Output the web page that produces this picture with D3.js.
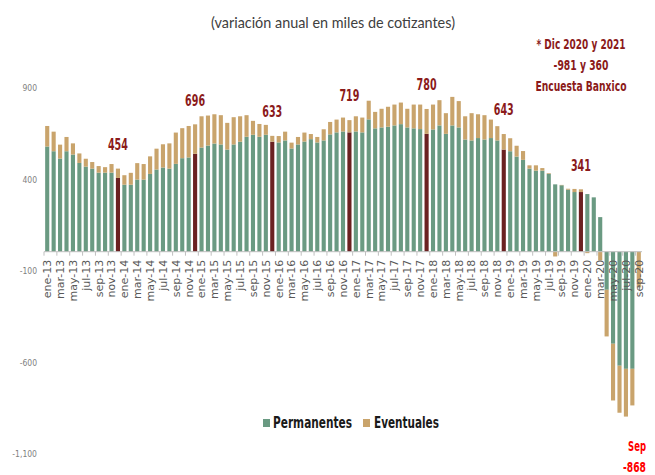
<!DOCTYPE html>
<html lang="es">
	<head>
		<meta charset="utf-8">
		<title>D3: Cotizantes permanentes y eventuales</title>
		<script type="text/javascript" src="https://d3js.org/d3.v7.min.js"></script>
		<style type="text/css">
			body {
				margin: 0;
				background: #fff;
			}
			.title {
				font-family: Lato, "Open Sans", sans-serif;
				font-size: 14.4px;
				fill: #404040;
			}
			.narrow {
				font-family: "Liberation Sans Narrow", "Arial Narrow", "DejaVu Sans Condensed", sans-serif;
				font-stretch: condensed;
				font-weight: bold;
			}
			.y-axis text {
				font-family: "Liberation Sans Narrow", "Arial Narrow", "DejaVu Sans Condensed", sans-serif;
				font-size: 8.5px;
				fill: #7f7f7f;
			}
			.x-axis text {
				font-family: "DejaVu Sans", sans-serif;
				font-size: 11px;
				fill: #595959;
			}
			.axis-line {
				stroke: #bfbfbf;
				stroke-width: 1;
			}
		</style>
	</head>
	<body>
		<div id="chart"></div>
		<script type="text/javascript">
			//Data
			const months = [
				"ene-13","feb-13","mar-13","abr-13","may-13","jun-13","jul-13","ago-13","sep-13","oct-13","nov-13","dic-13",
				"ene-14","feb-14","mar-14","abr-14","may-14","jun-14","jul-14","ago-14","sep-14","oct-14","nov-14","dic-14",
				"ene-15","feb-15","mar-15","abr-15","may-15","jun-15","jul-15","ago-15","sep-15","oct-15","nov-15","dic-15",
				"ene-16","feb-16","mar-16","abr-16","may-16","jun-16","jul-16","ago-16","sep-16","oct-16","nov-16","dic-16",
				"ene-17","feb-17","mar-17","abr-17","may-17","jun-17","jul-17","ago-17","sep-17","oct-17","nov-17","dic-17",
				"ene-18","feb-18","mar-18","abr-18","may-18","jun-18","jul-18","ago-18","sep-18","oct-18","nov-18","dic-18",
				"ene-19","feb-19","mar-19","abr-19","may-19","jun-19","jul-19","ago-19","sep-19","oct-19","nov-19","dic-19",
				"ene-20","feb-20","mar-20","abr-20","may-20","jun-20","jul-20","ago-20","sep-20"
			];
			const permanentes = [
				575, 549, 509, 549, 531, 485, 465, 454, 432, 432, 432, 403,
				366, 366, 394, 394, 425, 449, 460, 454, 480, 511, 515, 535,
				569, 580, 591, 586, 558, 586, 601, 628, 639, 628, 639, 601,
				597, 608, 564, 586, 602, 615, 597, 608, 641, 652, 657, 652,
				657, 652, 723, 674, 679, 683, 690, 697, 679, 674, 670, 644,
				668, 690, 644, 690, 679, 613, 608, 621, 613, 621, 608, 558,
				549, 520, 502, 454, 443, 443, 425, 368, 363, 339, 326, 326,
				315, 297, 189, -208, -503, -623, -640, -640, 0
			];
			const eventuales = [
				112, 107, 76, 78, 61, 52, 43, 36, 36, 30, 47, 51,
				52, 65, 90, 85, 96, 114, 127, 138, 171, 164, 172, 161,
				171, 164, 160, 160, 146, 149, 139, 118, 76, 70, 54, 32,
				35, 48, 32, 41, 49, 28, 30, 61, 68, 70, 76, 67,
				83, 81, 102, 90, 102, 109, 114, 118, 102, 130, 134, 136,
				136, 138, 113, 156, 144, 127, 149, 130, 133, 101, 78, 85,
				71, 59, 48, 18, 29, 14, 4, -26, 2, 5, 17, 15,
				-8, 0, -48, -255, -310, -257, -261, -200, -195
			];
			const highlightMonths = ["dic-13","dic-14","dic-15","dic-16","dic-17","dic-18","dic-19"];
			const highlightLabels = ["454","696","633","719","780","643","341"];
			const yTicks = [900, 400, -100, -600, -1100];
			const seriesNames = ["Permanentes", "Eventuales"];
			const noteLines = ["* Dic 2020 y 2021", "-981 y 360", "Encuesta Banxico"];
			const sepLines = ["Sep", "-868"];

			const colors = { perm: "#6a9a82", even: "#c9a46c", dec: "#6b2121" };

			//Widths of the condensed texts (the original font is narrower than any installed one)
			const noteWidths = [89, 55, 91];
			const sepWidths = [18, 23];
			const legendWidths = [79, 65];

			//Squeeze a text horizontally to a given width
			function condense(sel, widthOf) {
				sel.each(function(d, i) {
					const t = d3.select(this);
					const len = this.getComputedTextLength();
					const k = Math.min(1, widthOf(d, i) / len);
					const x = +t.attr("x"), y = +t.attr("y");
					t.attr("x", 0).attr("y", 0)
					 .attr("transform", "translate(" + x + "," + y + ") scale(" + k + ",1)");
				});
			}

			//Margin
			const margin = { top: 87, right: 13, bottom: 22, left: 44 };
			const width = 655 - margin.left - margin.right;
			const height = 475 - margin.top - margin.bottom;

			const fmt = d3.formatLocale({ decimal: ".", thousands: ",", grouping: [3], currency: ["$", ""], minus: "-" }).format(",");

			const rows = months.map(function(m, i) {
				return { month: m, perm: permanentes[i], even: eventuales[i] };
			});
			const stacked = d3.stack()
				.keys(["perm", "even"])
				.offset(d3.stackOffsetDiverging)(rows);

			//Scales
			const xScale = d3.scaleBand()
				.domain(months)
				.range([0, width])
				.paddingInner(0.36)
				.paddingOuter(0.18);
			const yScale = d3.scaleLinear()
				.domain([-1100, 900])
				.range([height, 0]);

			const svg = d3.select("#chart")
				.append("svg")
				.attr("width", 655)
				.attr("height", 475);

			//Title
			svg.append("text")
				.attr("class", "title")
				.attr("x", 333)
				.attr("y", 23)
				.attr("dy", "0.35em")
				.style("text-anchor", "middle")
				.text("(variación anual en miles de cotizantes)");

			const g = svg.append("g")
				.attr("transform", "translate(" + margin.left + "," + margin.top + ")");

			//Bars
			g.selectAll("g.layer")
				.data(stacked)
				.join("g")
				.attr("class", "layer")
				.selectAll("rect")
				.data(function(s) { return s.map(function(d) { d.key = s.key; return d; }); })
				.join("rect")
				.attr("x", function(d) { return xScale(d.data.month); })
				.attr("width", xScale.bandwidth())
				.attr("y", function(d) { return yScale(d[1]); })
				.attr("height", function(d) { return Math.abs(yScale(d[0]) - yScale(d[1])); })
				.attr("fill", function(d) {
					if (d.key === "perm" && highlightMonths.includes(d.data.month)) return colors.dec;
					return colors[d.key];
				});

			//X axis
			const y0 = yScale(0);
			g.append("line")
				.attr("class", "axis-line")
				.attr("x1", 0)
				.attr("x2", width)
				.attr("y1", y0)
				.attr("y2", y0);

			const labelled = months.filter(function(m, i) { return i % 2 === 0; });
			g.selectAll(".xtick")
				.data(labelled)
				.join("line")
				.attr("class", "axis-line xtick")
				.attr("x1", function(m) { return xScale(m) - xScale.step() * xScale.paddingInner() / 2; })
				.attr("x2", function(m) { return xScale(m) - xScale.step() * xScale.paddingInner() / 2; })
				.attr("y1", y0)
				.attr("y2", y0 + 4);

			const xAxis = d3.axisBottom(xScale)
				.tickValues(labelled)
				.tickSize(0);
			g.append("g")
				.attr("class", "x-axis")
				.attr("transform", "translate(0," + y0 + ")")
				.call(xAxis)
				.call(function(a) { a.select(".domain").remove(); })
				.selectAll("text")
				.attr("transform", "rotate(-90)")
				.attr("x", -8)
				.attr("y", 0)
				.attr("dy", "0.35em")
				.style("text-anchor", "end");

			//Y axis
			const yAxis = d3.axisLeft(yScale)
				.tickValues(yTicks)
				.tickSize(0)
				.tickPadding(0)
				.tickFormat(fmt);
			g.append("g")
				.attr("class", "y-axis")
				.attr("transform", "translate(-7,1)")
				.call(yAxis)
				.select(".domain").remove();

			//December labels
			g.selectAll(".dec-label")
				.data(highlightMonths)
				.join("text")
				.attr("class", "narrow dec-label")
				.attr("x", function(m) { return xScale(m) + xScale.bandwidth() / 2; })
				.attr("y", function(m, i) { return yScale(+highlightLabels[i]) - 24; })
				.attr("dy", "0.35em")
				.style("text-anchor", "middle")
				.style("font-size", "15px")
				.style("fill", "#8b1a1a")
				.text(function(m, i) { return highlightLabels[i]; })
				.call(condense, function() { return 20; });

			//Notes
			svg.selectAll(".note")
				.data(noteLines)
				.join("text")
				.attr("class", "narrow note")
				.attr("x", 581)
				.attr("y", function(d, i) { return 44 + i * 21; })
				.attr("dy", "0.35em")
				.style("text-anchor", "middle")
				.style("font-size", "14px")
				.style("fill", "#8b1a1a")
				.text(function(d) { return d; })
				.call(condense, function(d, i) { return noteWidths[i]; });

			svg.selectAll(".sep-note")
				.data(sepLines)
				.join("text")
				.attr("class", "narrow sep-note")
				.attr("x", 646)
				.attr("y", function(d, i) { return 446 + i * 21.5; })
				.attr("dy", "0.35em")
				.style("text-anchor", "end")
				.style("font-size", "14px")
				.style("fill", "#ff0000")
				.text(function(d) { return d; })
				.call(condense, function(d, i) { return sepWidths[i]; });

			//Legend
			const legend = svg.append("g")
				.attr("transform", "translate(263,419)");
			const items = legend.selectAll("g")
				.data(seriesNames)
				.join("g")
				.attr("transform", function(d, i) { return "translate(" + (i * 100) + ",0)"; });
			items.append("rect")
				.attr("width", 7)
				.attr("height", 8)
				.attr("fill", function(d, i) { return i === 0 ? colors.perm : colors.even; });
			items.append("text")
				.attr("class", "narrow")
				.attr("x", function(d, i) { return 10 + i; })
				.attr("y", 4)
				.attr("dy", "0.35em")
				.style("font-size", "15px")
				.style("fill", "#1a1a1a")
				.text(function(d) { return d; })
				.call(condense, function(d, i) { return legendWidths[i]; });
		</script>
	</body>
</html>
